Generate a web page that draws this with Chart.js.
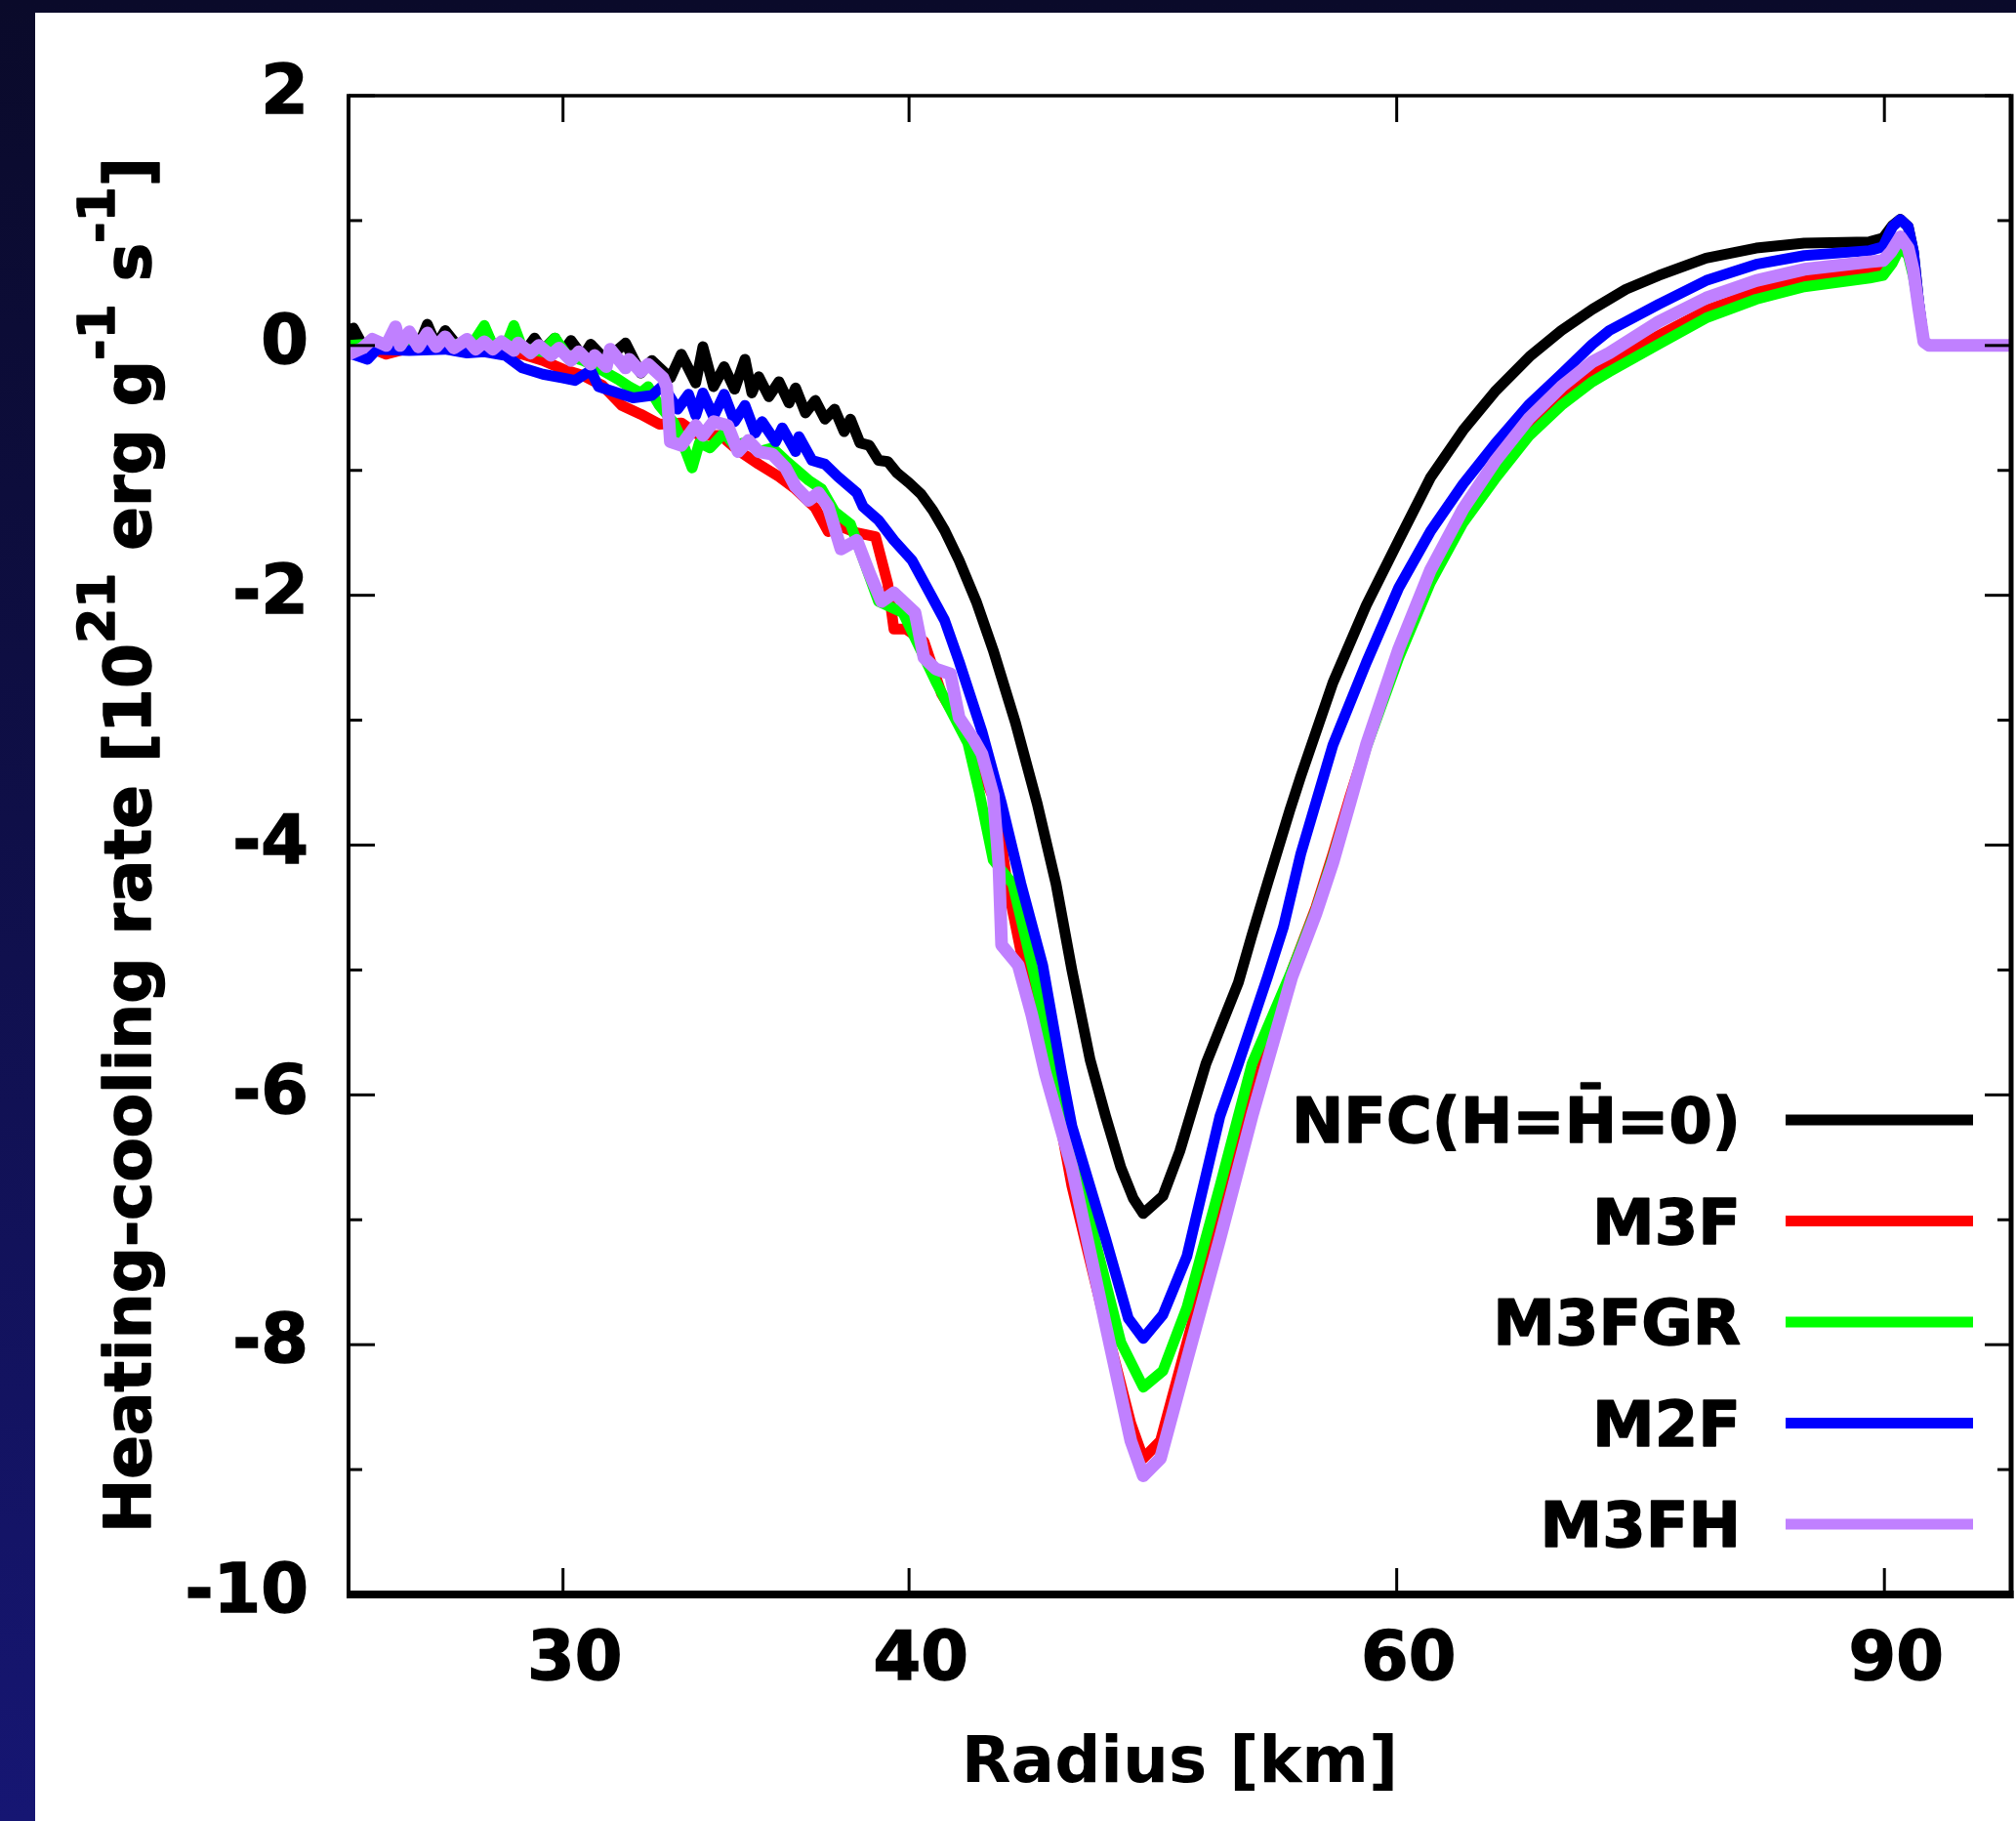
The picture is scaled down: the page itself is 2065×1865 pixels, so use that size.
<!DOCTYPE html>
<html>
<head>
<meta charset="utf-8">
<script src="https://cdn.jsdelivr.net/npm/chart.js@4.4.0/dist/chart.umd.min.js"></script>
<style>
html, body { margin: 0; padding: 0; }
body {
  width: 2065px; height: 1865px; overflow: hidden; position: relative;
  background: linear-gradient(to bottom, #0a0a2a 0%, #0f0f48 45%, #161673 100%);
}
#panel { position: absolute; left: 36px; top: 13px; width: 2029px; height: 1852px; background: #ffffff; }
canvas { display: block; }
</style>
</head>
<body>
<div id="panel"><canvas id="chart" width="2029" height="1852"></canvas></div>
<script>
// ---------------- data (radius [km], heating-cooling rate [1e21 erg/g/s]) ----------------
const seriesLabels = ['NFC(H=H\u0304=0)', 'M3F', 'M3FGR', 'M2F', 'M3FH'];
const seriesColors = ['#000000', '#ff0000', '#00ff00', '#0000ff', '#c080ff'];

const xTickValues = [30, 40, 60, 90];
const xTitle = 'Radius [km]';
const yTitleParts = [
  ['Heating-cooling rate [10', false], ['21', true], [' erg g', false],
  ['-1', true], [' s', false], ['-1', true], [']', false]
];

const nfcPoints = [[25.1,0.00],[25.2,0.14],[25.4,0.00],[25.8,0.01],[26.3,0.00],[26.6,-0.01],[26.8,0.17],[27.0,0.00],[27.2,0.12],[27.5,-0.01],[27.9,0.00],[28.1,0.14],[28.3,0.00],[28.8,-0.02],[29.1,-0.03],[29.3,0.06],[29.5,-0.04],[29.8,0.06],[30.0,-0.05],[30.2,0.04],[30.5,-0.09],[30.7,0.01],[31.1,-0.12],[31.3,-0.06],[31.6,0.02],[32.0,-0.22],[32.3,-0.12],[32.8,-0.26],[33.1,-0.07],[33.5,-0.30],[33.7,-0.01],[34.0,-0.33],[34.3,-0.17],[34.6,-0.35],[34.9,-0.11],[35.1,-0.38],[35.3,-0.25],[35.6,-0.41],[35.9,-0.29],[36.2,-0.46],[36.4,-0.34],[36.7,-0.54],[37.0,-0.44],[37.3,-0.59],[37.6,-0.51],[37.9,-0.69],[38.1,-0.59],[38.4,-0.78],[38.7,-0.80],[39.0,-0.92],[39.3,-0.93],[39.6,-1.02],[40.0,-1.10],[40.4,-1.19],[40.8,-1.32],[41.2,-1.48],[41.7,-1.72],[42.3,-2.05],[42.9,-2.44],[43.7,-3.02],[44.5,-3.67],[45.2,-4.31],[45.8,-5.00],[46.5,-5.72],[47.1,-6.17],[47.7,-6.58],[48.2,-6.83],[48.6,-6.95],[49.0,-6.88],[49.4,-6.81],[50.1,-6.45],[51.2,-5.75],[52.6,-5.10],[53.2,-4.72],[53.9,-4.30],[54.9,-3.72],[55.4,-3.45],[56.9,-2.70],[58.5,-2.08],[60.1,-1.56],[61.7,-1.06],[63.4,-0.68],[65.1,-0.37],[67.0,-0.09],[68.8,0.12],[70.6,0.29],[72.6,0.45],[74.6,0.56],[77.6,0.70],[80.9,0.78],[84.2,0.82],[88.9,0.83],[89.9,0.86],[90.6,0.96],[91.2,1.01],[91.8,0.95],[92.2,0.75],[92.6,0.35],[93.0,0.03],[93.4,0.00],[100,0.00]];

const m3fPoints = [[25.1,-0.02],[25.5,-0.01],[25.9,-0.07],[26.4,-0.02],[27.2,-0.01],[28.1,-0.03],[29.0,-0.07],[29.5,-0.12],[30.0,-0.19],[30.5,-0.24],[31.0,-0.32],[31.5,-0.48],[32.0,-0.55],[32.5,-0.63],[33.1,-0.62],[33.6,-0.72],[34.2,-0.72],[34.7,-0.84],[35.3,-0.95],[35.9,-1.05],[36.4,-1.15],[37.0,-1.30],[37.4,-1.49],[37.8,-1.45],[38.3,-1.50],[38.9,-1.53],[39.3,-1.91],[39.5,-2.27],[39.9,-2.27],[40.5,-2.37],[41.1,-2.79],[41.7,-3.02],[42.4,-3.35],[43.0,-3.67],[43.4,-4.31],[44.0,-4.96],[44.3,-5.19],[45.0,-5.81],[45.8,-6.73],[47.1,-7.84],[48.1,-8.63],[48.6,-8.91],[49.3,-8.77],[50.4,-7.98],[51.8,-7.01],[53.2,-6.03],[55.0,-5.00],[56.1,-4.50],[56.9,-4.07],[57.7,-3.62],[58.5,-3.20],[60.1,-2.48],[61.7,-1.85],[63.4,-1.38],[65.1,-1.02],[67.0,-0.66],[68.8,-0.42],[70.6,-0.22],[71.6,-0.14],[74.6,0.08],[77.6,0.28],[80.9,0.43],[84.2,0.52],[88.9,0.59],[89.9,0.60],[90.6,0.70],[91.2,0.78],[91.8,0.75],[92.2,0.60],[92.6,0.30],[93.0,0.03],[93.4,0.00],[100,0.00]];

const m3fgrPoints = [[25.1,0.00],[25.9,0.02],[26.8,0.03],[27.8,0.00],[28.1,0.16],[28.3,0.00],[28.6,-0.01],[28.8,0.16],[29.0,-0.02],[29.5,-0.05],[29.8,0.06],[30.1,-0.08],[30.5,-0.12],[31.0,-0.20],[31.4,-0.27],[31.7,-0.33],[32.0,-0.38],[32.2,-0.33],[32.5,-0.48],[32.9,-0.62],[33.1,-0.75],[33.4,-0.98],[33.6,-0.78],[33.9,-0.82],[34.3,-0.70],[34.6,-0.80],[35.0,-0.77],[35.3,-0.85],[35.7,-0.82],[36.1,-0.92],[36.4,-0.99],[36.8,-1.08],[37.2,-1.15],[37.6,-1.33],[38.1,-1.43],[39.0,-2.05],[39.8,-2.14],[40.9,-2.69],[42.0,-3.18],[42.4,-3.57],[42.9,-4.12],[43.6,-4.31],[44.3,-4.96],[45.2,-5.81],[46.5,-7.01],[47.7,-7.98],[48.6,-8.34],[49.4,-8.21],[50.4,-7.70],[51.8,-6.73],[53.2,-5.75],[55.0,-5.00],[56.1,-4.52],[56.9,-4.10],[57.7,-3.66],[58.5,-3.22],[60.1,-2.50],[61.7,-1.90],[63.4,-1.42],[65.1,-1.07],[67.0,-0.72],[68.8,-0.48],[70.6,-0.29],[71.6,-0.21],[74.6,0.01],[77.6,0.22],[80.9,0.37],[84.2,0.47],[88.9,0.54],[89.9,0.56],[90.6,0.66],[91.2,0.79],[91.8,0.72],[92.2,0.55],[92.6,0.30],[93.0,0.03],[93.4,0.00],[100,0.00]];

const m2fPoints = [[25.1,-0.06],[25.5,-0.11],[25.7,-0.03],[26.4,-0.04],[27.2,-0.03],[27.7,-0.06],[28.1,-0.05],[28.6,-0.08],[29.0,-0.18],[29.5,-0.23],[30.0,-0.26],[30.3,-0.28],[30.7,-0.20],[30.9,-0.33],[31.4,-0.38],[31.8,-0.42],[32.3,-0.40],[32.6,-0.32],[33.0,-0.51],[33.3,-0.39],[33.5,-0.56],[33.7,-0.38],[34.0,-0.57],[34.3,-0.39],[34.6,-0.61],[34.9,-0.48],[35.2,-0.70],[35.4,-0.61],[35.8,-0.77],[36.0,-0.66],[36.4,-0.85],[36.5,-0.73],[36.9,-0.92],[37.3,-0.95],[37.7,-1.05],[38.3,-1.18],[38.5,-1.29],[39.0,-1.40],[39.5,-1.56],[40.1,-1.72],[40.6,-1.94],[41.2,-2.20],[41.7,-2.53],[42.5,-3.09],[43.2,-3.67],[43.9,-4.31],[44.7,-4.96],[45.4,-5.81],[45.8,-6.25],[47.1,-7.15],[48.0,-7.79],[48.6,-7.95],[49.4,-7.76],[50.4,-7.29],[51.8,-6.17],[52.6,-5.75],[53.9,-5.05],[54.6,-4.66],[55.4,-4.07],[56.9,-3.20],[58.5,-2.54],[60.1,-1.94],[61.7,-1.49],[63.4,-1.11],[65.1,-0.79],[67.0,-0.47],[68.8,-0.23],[70.6,0.01],[71.6,0.12],[74.6,0.33],[77.6,0.52],[80.9,0.65],[84.2,0.72],[88.9,0.76],[89.9,0.79],[90.6,0.95],[91.2,1.01],[91.8,0.95],[92.2,0.75],[92.6,0.35],[93.0,0.03],[93.4,0.00],[100,0.00]];

const m3fhPoints = [[25.1,-0.07],[25.4,-0.02],[25.6,0.05],[25.9,0.00],[26.1,0.15],[26.2,0.00],[26.4,0.11],[26.6,-0.01],[26.8,0.10],[27.0,-0.01],[27.2,0.07],[27.4,-0.02],[27.7,0.05],[27.9,-0.03],[28.1,0.03],[28.3,-0.03],[28.5,0.03],[28.8,-0.04],[28.9,0.02],[29.2,-0.06],[29.4,0.00],[29.7,-0.08],[29.9,-0.02],[30.2,-0.12],[30.4,-0.05],[30.7,-0.15],[30.8,-0.08],[31.1,-0.17],[31.2,-0.03],[31.6,-0.18],[31.7,-0.11],[32.0,-0.21],[32.2,-0.15],[32.6,-0.26],[32.7,-0.33],[32.8,-0.77],[33.1,-0.80],[33.5,-0.64],[33.7,-0.72],[34.0,-0.61],[34.4,-0.64],[34.7,-0.85],[35.0,-0.76],[35.3,-0.85],[35.7,-0.87],[36.1,-0.98],[36.4,-1.13],[36.8,-1.24],[37.1,-1.18],[37.4,-1.29],[37.8,-1.63],[38.3,-1.56],[38.7,-1.82],[39.1,-2.05],[39.5,-1.98],[40.2,-2.14],[40.5,-2.50],[40.9,-2.59],[41.4,-2.63],[41.7,-2.98],[42.2,-3.15],[42.5,-3.27],[42.9,-3.60],[43.1,-4.15],[43.2,-4.80],[43.8,-4.96],[44.3,-5.36],[44.8,-5.83],[45.8,-6.58],[47.1,-7.84],[48.1,-8.77],[48.6,-9.05],[49.3,-8.91],[50.4,-8.12],[51.8,-7.15],[53.2,-6.17],[55.0,-5.05],[56.1,-4.55],[56.9,-4.14],[57.7,-3.67],[58.5,-3.20],[60.1,-2.43],[61.7,-1.80],[63.4,-1.31],[65.1,-0.93],[67.0,-0.58],[68.8,-0.33],[70.6,-0.13],[71.6,-0.06],[74.6,0.19],[77.6,0.38],[80.9,0.52],[84.2,0.61],[88.9,0.67],[89.9,0.68],[90.5,0.75],[91.2,0.87],[91.8,0.78],[92.2,0.60],[92.6,0.30],[93.0,0.03],[93.4,0.00],[100,0.00]];

const seriesPoints = [nfcPoints, m3fPoints, m3fgrPoints, m2fPoints, m3fhPoints];
const seriesWidths = [11, 11, 11, 11, 13];
const seriesOrder = [5, 4, 3, 2, 1];

// ---------------- rendering ----------------
const FONT = '"DejaVu Sans", sans-serif';

const frameTicksPlugin = {
  id: 'frameTicks',
  afterDatasetsDraw(chart) {
    const { ctx, chartArea: a, scales: { x, y } } = chart;
    ctx.save();
    ctx.strokeStyle = '#000';
    ctx.lineCap = 'butt';
    const seg = (x1, y1, x2, y2, w) => { ctx.lineWidth = w; ctx.beginPath(); ctx.moveTo(x1, y1); ctx.lineTo(x2, y2); ctx.stroke(); };
    y.ticks.forEach(t => {
      const py = y.getPixelForValue(t.value);
      const len = Math.round(t.value) % 2 === 0 ? 27 : 14;
      seg(a.left, py, a.left + len, py, 3);
      seg(a.right, py, a.right - len, py, 3);
    });
    x.ticks.forEach(t => {
      const px = x.getPixelForValue(t.value);
      seg(px, a.bottom, px, a.bottom - 27, 3);
      seg(px, a.top, px, a.top + 27, 3);
    });
    seg(a.left, a.top, a.right, a.top, 3.5);
    seg(a.left, a.top - 1.75, a.left, a.bottom + 4, 4);
    seg(a.right, a.top - 1.75, a.right, a.bottom + 4, 5);
    seg(a.left - 2, a.bottom, a.right + 2.5, a.bottom, 8);
    ctx.restore();
  }
};

const yTitlePlugin = {
  id: 'yTitle',
  afterDraw(chart) {
    const { ctx, chartArea: a } = chart;
    const mainFont = 'bold 66px ' + FONT;
    const supFont = 'bold 52px ' + FONT;
    ctx.save();
    let total = 0;
    const widths = yTitleParts.map(([txt, sup]) => {
      ctx.font = sup ? supFont : mainFont;
      const w = ctx.measureText(txt).width;
      total += w;
      return w;
    });
    ctx.translate(118, (a.top + a.bottom) / 2);
    ctx.rotate(-Math.PI / 2);
    ctx.fillStyle = '#000';
    ctx.strokeStyle = '#000';
    ctx.lineWidth = 1.5;
    ctx.lineJoin = 'round';
    ctx.textAlign = 'left';
    ctx.textBaseline = 'alphabetic';
    let u = -total / 2;
    yTitleParts.forEach(([txt, sup], i) => {
      ctx.font = sup ? supFont : mainFont;
      ctx.fillText(txt, u, sup ? -37 : 0);
      ctx.strokeText(txt, u, sup ? -37 : 0);
      u += widths[i];
    });
    ctx.restore();
  }
};

const keyPlugin = {
  id: 'keyBox',
  afterDraw(chart) {
    const { ctx } = chart;
    ctx.save();
    chart.data.datasets.forEach((ds, i) => {
      const yc = 1134 + i * 103.5;
      ctx.font = 'bold 64px ' + FONT;
      ctx.fillStyle = '#000';
      ctx.strokeStyle = '#000';
      ctx.lineWidth = 1.5;
      ctx.lineJoin = 'round';
      ctx.textAlign = 'right';
      ctx.textBaseline = 'alphabetic';
      ctx.fillText(ds.label, 1747, yc + 23, 460);
      ctx.strokeText(ds.label, 1747, yc + 23, 460);
      ctx.strokeStyle = ds.borderColor;
      ctx.lineWidth = 11;
      ctx.lineCap = 'butt';
      ctx.beginPath();
      ctx.moveTo(1793, yc);
      ctx.lineTo(1985, yc);
      ctx.stroke();
    });
    ctx.restore();
  }
};

new Chart(document.getElementById('chart'), {
  type: 'line',
  data: {
    datasets: seriesLabels.map((label, i) => ({
      label,
      data: seriesPoints[i].map(([r, q]) => ({ x: r, y: q })),
      borderColor: seriesColors[i],
      backgroundColor: seriesColors[i],
      borderWidth: seriesWidths[i],
      order: seriesOrder[i],
      pointRadius: 0,
      tension: 0,
      fill: false,
      borderJoinStyle: 'round',
      borderCapStyle: 'round'
    }))
  },
  options: {
    responsive: false,
    animation: false,
    devicePixelRatio: 1,
    layout: { padding: { top: 85, right: 5, left: 0, bottom: 0 } },
    plugins: { legend: { display: false }, tooltip: { enabled: false }, title: { display: false } },
    scales: {
      x: {
        type: 'logarithmic',
        position: 'bottom',
        min: 25.1,
        max: 100,
        afterBuildTicks: s => { s.ticks = xTickValues.map(v => ({ value: v })); },
        afterFit: s => { s.height = 232; },
        grid: { display: false, drawTicks: false },
        border: { display: false },
        ticks: {
          padding: 27, labelOffset: 12, color: '#000', autoSkip: false, maxRotation: 0, minRotation: 0,
          textStrokeColor: '#000', textStrokeWidth: 1.5,
          font: { family: FONT, weight: 'bold', size: 70 },
          callback: v => String(v)
        },
        title: {
          display: true, text: xTitle, color: '#000',
          font: { family: FONT, weight: 'bold', size: 66 },
          padding: { top: 0, bottom: 18 }
        }
      },
      y: {
        type: 'linear',
        position: 'left',
        min: -10,
        max: 2,
        afterFit: s => { s.width = 321; },
        grid: { display: false, drawTicks: false },
        border: { display: false },
        ticks: {
          stepSize: 1, padding: 41, color: '#000',
          textStrokeColor: '#000', textStrokeWidth: 1.5,
          font: { family: FONT, weight: 'bold', size: 70 },
          callback: v => (Math.round(v) % 2 === 0 ? String(Math.round(v)) : '')
        },
        title: { display: false }
      }
    }
  },
  plugins: [frameTicksPlugin, yTitlePlugin, keyPlugin]
});
</script>
</body>
</html>
